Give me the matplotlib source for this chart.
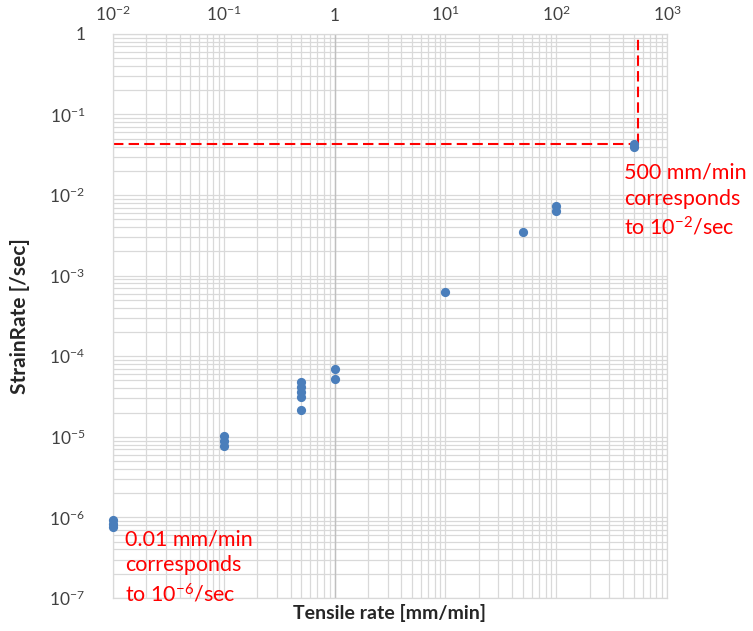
import math
import matplotlib.pyplot as plt
from matplotlib.ticker import FixedLocator, LogLocator, FuncFormatter, NullFormatter

plt.rcParams["font.family"] = ["Lato", "DejaVu Sans"]
plt.rcParams["mathtext.fontset"] = "custom"
plt.rcParams["mathtext.rm"] = "Lato"
plt.rcParams["mathtext.it"] = "Lato"
plt.rcParams["mathtext.bf"] = "Lato:bold"

# tensile rate [mm/min] and measured strain rate [/sec]
tensile_rate = [0.01, 0.01, 0.01,
                0.1, 0.1, 0.1,
                0.5, 0.5, 0.5, 0.5, 0.5,
                1, 1,
                10,
                50,
                100, 100,
                500, 500]
strain_rate = [9.4e-7, 8.4e-7, 7.5e-7,
               1.01e-5, 8.8e-6, 7.6e-6,
               4.77e-5, 4.13e-5, 3.58e-5, 3.10e-5, 2.14e-5,
               6.87e-5, 5.15e-5,
               6.3e-4,
               3.46e-3,
               7.42e-3, 6.43e-3,
               0.043, 0.040]

# reference guide for the fastest rate
guide_x = 544
guide_y = 0.0435

x_decades = range(-2, 4)
y_decades = range(-7, 1)


def pow10_label(v, pos):
    e = int(round(math.log10(v)))
    if e == 0:
        return "1"
    return r"$10^{%d}$" % e


fig = plt.figure(figsize=(7.53, 6.31), dpi=100)
ax = fig.add_axes([0.150, 0.0523, 0.736, 0.894])
ax.set_xscale("log")
ax.set_yscale("log")
x_lim = (10.0 ** x_decades[0], 10.0 ** x_decades[-1])
y_lim = (10.0 ** y_decades[0], 10.0 ** y_decades[-1])
ax.set_xlim(*x_lim)
ax.set_ylim(*y_lim)

grid_color = "#D9D9D9"
ax.xaxis.set_major_locator(FixedLocator([10.0 ** e for e in x_decades]))
ax.yaxis.set_major_locator(FixedLocator([10.0 ** e for e in y_decades]))
ax.xaxis.set_minor_locator(LogLocator(base=10, subs=range(2, 10), numticks=20))
ax.yaxis.set_minor_locator(LogLocator(base=10, subs=range(2, 10), numticks=20))
ax.xaxis.set_major_formatter(FuncFormatter(pow10_label))
ax.yaxis.set_major_formatter(FuncFormatter(pow10_label))
ax.xaxis.set_minor_formatter(NullFormatter())
ax.yaxis.set_minor_formatter(NullFormatter())
ax.grid(True, which="both", color=grid_color, linewidth=0.9)
ax.set_axisbelow(True)
ax.xaxis.tick_top()
ax.tick_params(which="both", length=0, labelsize=12.5, labelcolor="#404040")
ax.tick_params(axis="x", pad=7)
ax.tick_params(axis="y", pad=20)
for s in ax.spines.values():
    s.set_color(grid_color)
    s.set_linewidth(0.9)

# vertical axis crosses at 1 mm/min
ax.axvline(1, color="#BFBFBF", linewidth=1.0, zorder=1)

# red guide lines
ax.plot([x_lim[0], guide_x], [guide_y, guide_y], color="red", lw=1.5,
        ls=(0, (5, 2.5)), zorder=2)
ax.plot([guide_x, guide_x], [guide_y, y_lim[1]], color="red", lw=1.5,
        ls=(0, (5, 2.5)), zorder=2)

ax.scatter(tensile_rate, strain_rate, s=44, color="#4A7EBB", zorder=3,
           clip_on=False, linewidths=0)

ax.text(0.922, 0.772, "500 mm/min\ncorresponds\nto $10^{-2}$/sec",
        transform=ax.transAxes, color="red", fontsize=15.5, va="top",
        ha="left", linespacing=1.38)
ax.text(0.022, 0.122, "0.01 mm/min\ncorresponds\nto $10^{-6}$/sec",
        transform=ax.transAxes, color="red", fontsize=15.5, va="top",
        ha="left", linespacing=1.38)

fig.text(0.517, 0.028, "Tensile rate [mm/min]", fontsize=14,
         fontweight="bold", color="#262626", ha="center", va="center")
fig.text(0.026, 0.499, "StrainRate [/sec]", fontsize=15,
         fontweight="bold", color="#262626", ha="center", va="center",
         rotation=90)

fig.savefig("out.png", dpi=100)
